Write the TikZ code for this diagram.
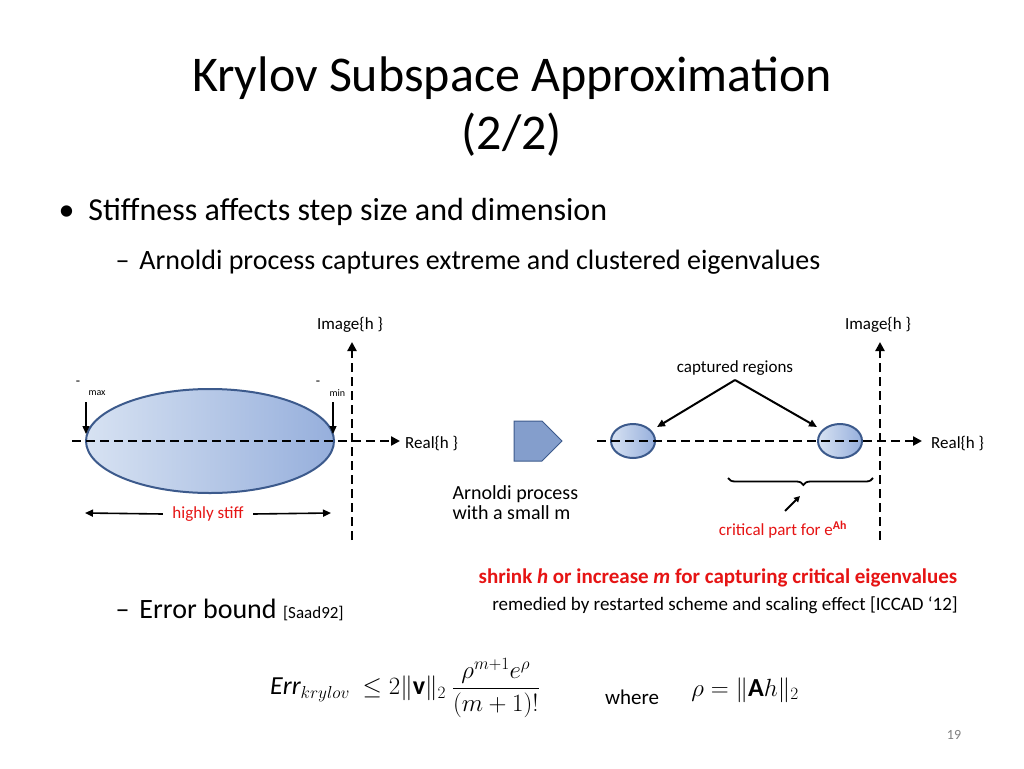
\documentclass[tikz,border=0pt]{standalone}
\usepackage{amsmath}
\usepackage{fontspec}
\setmainfont{Carlito}
\usetikzlibrary{arrows.meta,decorations.pathreplacing,shapes.geometric,shapes.arrows}
\definecolor{ered}{RGB}{230,20,20}
\definecolor{eline}{RGB}{60,90,140}
\definecolor{efillL}{RGB}{215,226,242}
\definecolor{efillR}{RGB}{150,175,220}
\begin{document}
\begin{tikzpicture}[x=1pt,y=-1pt,
  fs/.style={font=\fontsize{#1}{#1}\selectfont},
  axis/.style={line width=2.6pt,dash pattern=on 9pt off 5pt,-{Triangle[length=9pt,width=9pt]}},
  arr/.style={line width=1.6pt,-{Triangle[length=8pt,width=7pt]}},
  eig/.style={draw=eline,line width=2pt,left color=efillL,right color=efillR},
  lbl/.style={fs=17,inner sep=0pt}]
\useasboundingbox (0,0) rectangle (1024,768);
\fill[white] (0,0) rectangle (1024,768);
% title
\node[fs=50,align=center] (t1) at (512,78) {Krylov Subspace Approximation};
\node[fs=50] (t2) at (512,135) {(2/2)};
% bullets
\node[fs=32,anchor=west] (b1) at (55,212) {\textbullet\hspace{14pt}Stiffness affects step size and dimension};
\node[fs=28,anchor=west] (b2) at (112,262) {–\hspace{10pt}Arnoldi process captures extreme and clustered eigenvalues};
% left diagram
\node[eig,ellipse,minimum width=248,minimum height=104,inner sep=0pt] (E) at (210,441) {};
\coordinate (lx0) at (72,441); \coordinate (lx1) at (400,441);
\coordinate (ly0) at (352,540); \coordinate (ly1) at (352,342);
\draw[axis] (lx0) -- (lx1);
\draw[axis] (ly0) -- (ly1);
\node[lbl,fs=17] (im1) at (350,325) {Image\{h \}};
\node[lbl,fs=17,anchor=west] (re1) at (405,444) {Real\{h \}};
\coordinate (ma0) at (86,402); \coordinate (ma1) at (86,434);
\coordinate (mi0) at (333,402); \coordinate (mi1) at (333,434);
\draw[arr,line width=1.3pt] (ma0) -- (ma1);
\draw[arr,line width=1.3pt] (mi0) -- (mi1);
\node[fs=14] (mx) at (78,383) {-}; \node[fs=10,anchor=west] (mxs) at (85,393) {max};
\node[fs=14] (mn) at (318,383) {-}; \node[fs=10,anchor=west] (mns) at (326,393) {min};
\node[fs=17,text=ered] (hs) at (208,514) {highly stiff};
\coordinate (hl) at (85,513); \coordinate (hr) at (331,513);
\draw[arr] (hs.west) ++(-6,0) -- (hl);
\draw[arr] (hs.east) ++(6,0) -- (hr);
% block arrow
\node[draw=eline,line width=1pt,fill=efillR!80!eline,single arrow,minimum height=48,minimum width=40,single arrow head extend=0pt,inner sep=0pt] (ba) at (528,441) {};
\node[fs=20,anchor=west,align=left] (ap) at (449,503) {Arnoldi process\\with a small m};
% right diagram
\node[eig,ellipse,minimum width=44,minimum height=34,inner sep=0pt] (e1) at (633,441) {};
\node[eig,ellipse,minimum width=44,minimum height=34,inner sep=0pt] (e2) at (840,441) {};
\coordinate (rx0) at (597,441); \coordinate (rx1) at (922,441);
\coordinate (ry0) at (880,540); \coordinate (ry1) at (880,342);
\draw[axis] (rx0) -- (rx1);
\draw[axis] (ry0) -- (ry1);
\node[lbl,fs=17] (im2) at (878,325) {Image\{h \}};
\node[lbl,fs=17,anchor=west] (re2) at (931,444) {Real\{h \}};
\node[fs=17] (cr) at (735,368) {captured regions};
\coordinate (cp) at (735,380);
\coordinate (c1) at (657,427); \coordinate (c2) at (817,427);
\draw[arr,line width=2pt] (cp) -- (c1);
\draw[arr,line width=2pt] (cp) -- (c2);
\coordinate (br0) at (873,478); \coordinate (br1) at (728,478);
\draw[line width=1.8pt,decorate,decoration={brace,amplitude=7pt,aspect=0.48}] (br0) -- (br1);
\coordinate (ca0) at (785,511); \coordinate (ca1) at (800,496);
\draw[arr,line width=1.8pt,-{Triangle[length=6pt,width=6pt]}] (ca0) -- (ca1);
\node[fs=17,text=ered] (cp2) at (783,530) {critical part for e\textsuperscript{\textbf{Ah}}};
% bottom
\node[text=ered] (sh) at (718,578) {\fontsize{21}{21}\selectfont\bfseries shrink \textit{h} or increase \textit{m} for capturing critical eigenvalues};
\node[fs=19] (rm) at (725,605) {remedied by restarted scheme and scaling effect [ICCAD ‘12]};
\node[fs=28,anchor=west] (eb) at (112,610) {–\hspace{10pt}Error bound {\fontsize{17}{17}\selectfont [Saad92]}};
\node[fs=26] (f1) at (405,688) {$\mathit{Err}_{krylov}\ \le 2\lVert\mathbf{v}\rVert_2\ \dfrac{\rho^{m+1}e^{\rho}}{(m+1)!}$};
\node[fs=21] (wh) at (632,697) {where};
\node[fs=26] (f2) at (745,690) {$\rho = \lVert\mathbf{A}h\rVert_2$};
\node[fs=14,text=gray] (pg) at (954,735) {19};
\end{tikzpicture}
\end{document}
